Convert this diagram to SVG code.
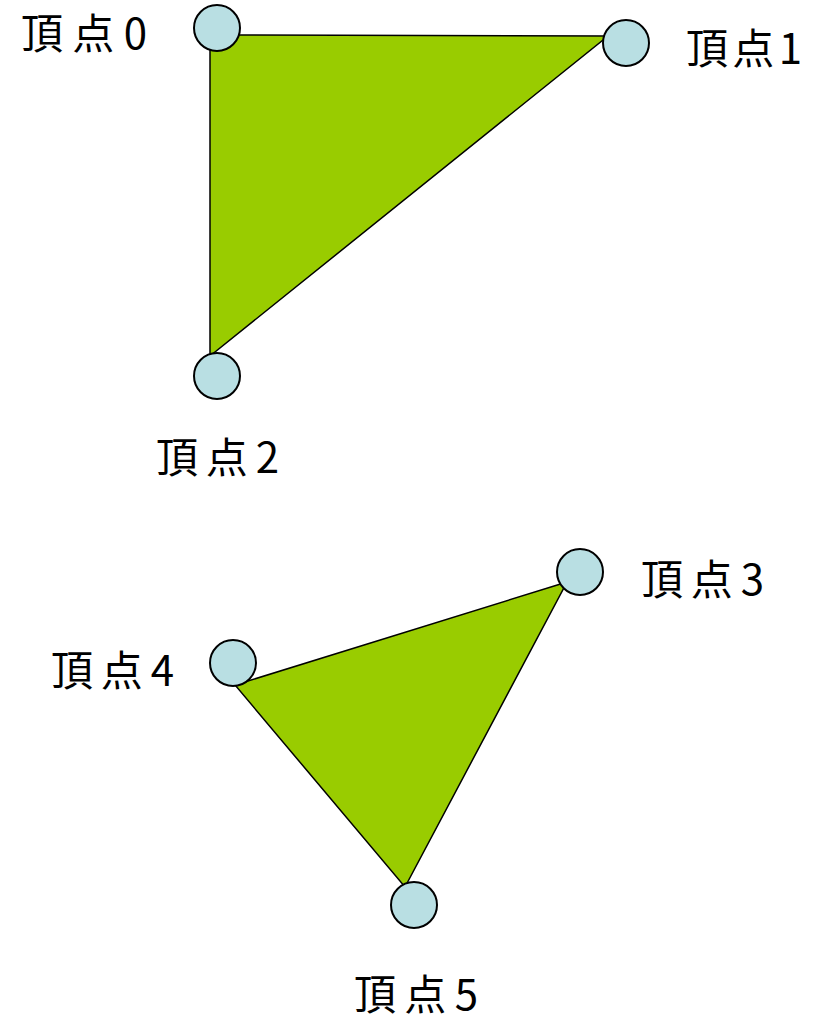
<svg xmlns="http://www.w3.org/2000/svg" width="827" height="1024" viewBox="0 0 827 1024">
<style>
.tri{fill:#99CC00;stroke:#000;stroke-width:1.5;stroke-linejoin:miter}
.v{fill:#B9DFE3;stroke:#000;stroke-width:2}
.lbl{font-family:"Noto Sans CJK JP","Noto Sans CJK SC",sans-serif;font-size:42px;fill:#000}
</style>
<rect width="827" height="1024" fill="#fff"/>
<g id="edges">
<polygon id="tri1" class="tri" points="210,35 608,36 210,356"/>
<polygon id="tri2" class="tri" points="567,582 235,685 405,887"/>
</g>
<g id="v0"><circle class="v" cx="217" cy="28" r="23"/><text class="lbl" x="21" y="49" textLength="126" lengthAdjust="spacing">頂点0</text></g>
<g id="v1"><circle class="v" cx="626" cy="43" r="23"/><text class="lbl" x="686" y="64" textLength="116" lengthAdjust="spacing">頂点1</text></g>
<g id="v2"><circle class="v" cx="217" cy="376" r="23"/><text class="lbl" x="156" y="473" textLength="123" lengthAdjust="spacing">頂点2</text></g>
<g id="v3"><circle class="v" cx="580" cy="572" r="23"/><text class="lbl" x="641" y="595" textLength="123" lengthAdjust="spacing">頂点3</text></g>
<g id="v4"><circle class="v" cx="233" cy="663" r="23"/><text class="lbl" x="51" y="686" textLength="123" lengthAdjust="spacing">頂点4</text></g>
<g id="v5"><circle class="v" cx="414" cy="905" r="23"/><text class="lbl" x="354" y="1010" textLength="124" lengthAdjust="spacing">頂点5</text></g>
</svg>
